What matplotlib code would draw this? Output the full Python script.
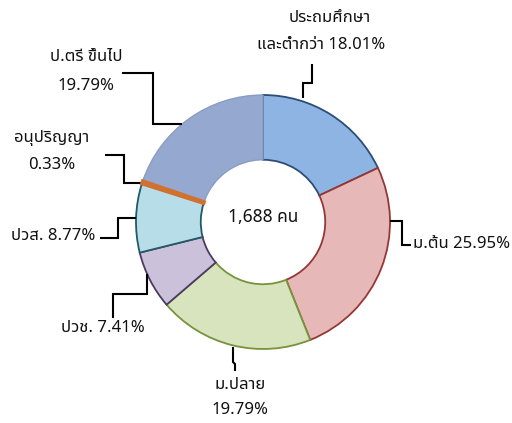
import matplotlib
matplotlib.use("Agg")
import matplotlib.pyplot as plt
from matplotlib import font_manager as fm
from matplotlib.ft2font import FT2Font

# ---- find a font that has Thai glyphs ----
thai_fonts = []
for f in fm.fontManager.ttflist:
    try:
        cm = FT2Font(f.fname).get_charmap()
        if 0x0E1B in cm and 0x0E2A in cm and 0x0E4C in cm:
            thai_fonts.append(f.name)
    except Exception:
        pass
pref = ["Tahoma", "Noto Sans Thai", "Noto Sans Thai UI", "Loma", "Garuda", "Sarabun"]
thai = None
for p in pref:
    if p in thai_fonts:
        thai = p
        break
if thai is None:
    sans = [n for n in thai_fonts if "Sans" in n and "Looped" not in n]
    thai = sans[0] if sans else (thai_fonts[0] if thai_fonts else "DejaVu Sans")
plt.rcParams["font.family"] = [thai, "DejaVu Sans"]

# ---- data ----
categories = ["ประถมศึกษา\nและต่ำกว่า", "ม.ต้น", "ม.ปลาย", "ปวช.", "ปวส.", "อนุปริญญา", "ป.ตรี ขึ้นไป"]
values = [18.01, 25.95, 19.79, 7.41, 8.77, 0.33, 19.79]
total_label = "1,688 คน"
face_colors = ["#8DB4E2", "#E6B9B8", "#D7E4BD", "#CCC1DA", "#B7DEE8", "#E07B39", "#95A9D0"]
edge_colors = ["#2C4D75", "#953735", "#77933C", "#4B3A63", "#215968", "#D0712F", "#8A9CC0"]
edge_widths = [1.3, 1.3, 1.3, 1.3, 1.3, 2.6, 1.0]

W, H = 512, 423
fig = plt.figure(figsize=(W / 100, H / 100), dpi=100)
ax = fig.add_axes([0, 0, 1, 1])

def P(x, y):
    # pixel (top-left origin) -> data coords
    return x, H - y

cx, cy = P(263, 222)
R = 127
wedges, _ = ax.pie(values, startangle=90, counterclock=False, radius=R, center=(cx, cy),
                   colors=face_colors, wedgeprops=dict(width=R * 0.51, linewidth=1.3))
for w, ec, lw in zip(wedges, edge_colors, edge_widths):
    w.set_edgecolor(ec)
    w.set_linewidth(lw)
wedges[5].set_zorder(3)

ax.set_xlim(0, W)
ax.set_ylim(0, H)
ax.set_aspect("equal")
ax.axis("off")

fs = 12
tc = "#111111"
ax.text(*P(263, 217), total_label, ha="center", va="center", fontsize=fs + 0.5, color=tc)

def lbl(i):
    return f"{values[i]:.2f}%"

# leader lines (pixel coords)
leaders = [
    [(303, 98), (303, 83), (312, 83), (312, 64)],
    [(390, 221), (402, 221), (402, 245), (411, 245)],
    [(233, 347), (233, 362), (235, 364), (235, 371)],
    [(147, 274), (147, 294), (113, 294), (113, 318)],
    [(136, 218), (118, 218), (118, 238), (100, 238)],
    [(142, 183), (124, 183), (124, 155), (105, 155)],
    [(182, 124), (153, 124), (153, 73), (122, 73)],
]
for pts in leaders:
    xs, ys = zip(*[P(x, y) for x, y in pts])
    ax.plot(xs, ys, color="black", linewidth=1.5, solid_capstyle="butt", solid_joinstyle="miter")

ax.text(*P(330, 18), "ประถมศึกษา", ha="center", va="center", fontsize=fs, color=tc)
ax.text(*P(321, 45), "และต่ำกว่า " + lbl(0), ha="center", va="center", fontsize=fs, color=tc)
ax.text(*P(413, 244), categories[1] + " " + lbl(1), ha="left", va="center", fontsize=fs, color=tc)
ax.text(*P(240, 385), categories[2], ha="center", va="center", fontsize=fs, color=tc)
ax.text(*P(240, 410), lbl(2), ha="center", va="center", fontsize=fs, color=tc)
ax.text(*P(103, 328), categories[3] + " " + lbl(3), ha="center", va="center", fontsize=fs, color=tc)
ax.text(*P(95, 236), categories[4] + " " + lbl(4), ha="right", va="center", fontsize=fs, color=tc)
ax.text(*P(52, 138), categories[5], ha="center", va="center", fontsize=fs, color=tc)
ax.text(*P(52, 165), lbl(5), ha="center", va="center", fontsize=fs, color=tc)
ax.text(*P(86, 57), categories[6], ha="center", va="center", fontsize=fs, color=tc)
ax.text(*P(86, 86), lbl(6), ha="center", va="center", fontsize=fs, color=tc)

fig.savefig("out.png", dpi=100)
